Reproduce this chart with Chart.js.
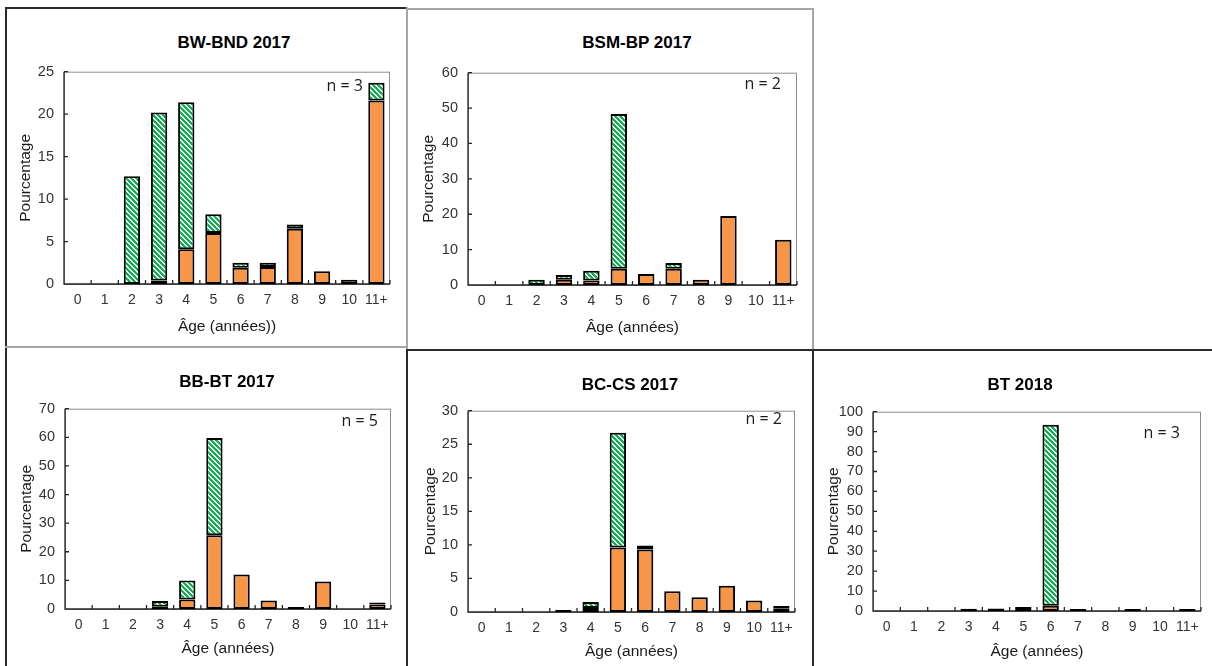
<!DOCTYPE html>
<html>
<head>
<meta charset="utf-8">
<script src="https://cdn.jsdelivr.net/npm/chart.js@4.4.1/dist/chart.umd.min.js"></script>
<style>
body { margin: 0; background: #fff; width: 1212px; height: 666px; overflow: hidden; position: relative; font-family: "Liberation Sans", Arial, sans-serif; }
canvas { position: absolute; }
.line { position: absolute; }
.title { position: absolute; width: 240px; text-align: center; font-weight: bold; font-size: 17px; line-height: 20px; color: #000; }
.count { position: absolute; font-family: "Open Sans", sans-serif; font-size: 16px; line-height: 20px; color: #1a1a1a; white-space: nowrap; }
</style>
</head>
<body>
<script>
// Age classes
const ages = ['0', '1', '2', '3', '4', '5', '6', '7', '8', '9', '10', '11+'];

// BW-BND 2017
const bwbndOrange = [0, 0, 0, 0.4, 4.1, 6.0, 1.9, 2.0, 6.5, 1.5, 0.5, 21.6];
const bwbndGreen  = [0, 0, 12.7, 19.8, 17.3, 2.2, 0.6, 0.5, 0.5, 0, 0, 2.1];

// BSM-BP 2017
const bsmbpOrange = [0, 0, 0, 1.5, 1.3, 4.6, 3.1, 4.6, 1.5, 19.5, 0, 12.8];
const bsmbpGreen  = [0, 0, 1.5, 1.3, 2.7, 43.7, 0, 1.6, 0, 0, 0, 0];

// BB-BT 2017
const bbbtOrange = [0, 0, 0, 0.8, 3.3, 25.8, 12.1, 3.0, 0.7, 9.6, 0, 1.6];
const bbbtGreen  = [0, 0, 0, 2.0, 6.7, 34.0, 0, 0, 0, 0, 0, 0.7];

// BC-CS 2017
const bccsOrange = [0, 0, 0, 0.3, 0.6, 9.6, 9.3, 3.1, 2.2, 3.9, 1.7, 0.5];
const bccsGreen  = [0, 0, 0, 0, 0.9, 17.1, 0.6, 0, 0, 0, 0, 0.4];

// BT 2018
const bt18Orange = [0, 0, 0, 0, 1.3, 1.5, 2.6, 1.0, 0, 1.0, 0, 1.0];
const bt18Green  = [0, 0, 0, 1.1, 0, 0.5, 90.8, 0, 0, 0, 0, 0];

const panels = [
    { title: 'BW-BND 2017', n: 'n = 3', orange: bwbndOrange, green: bwbndGreen, max: 25, step: 5, xTitle: 'Âge (années))' },
    { title: 'BSM-BP 2017', n: 'n = 2', orange: bsmbpOrange, green: bsmbpGreen, max: 60, step: 10, xTitle: 'Âge (années)' },
    { title: 'BB-BT 2017', n: 'n = 5', orange: bbbtOrange, green: bbbtGreen, max: 70, step: 10, xTitle: 'Âge (années)' },
    { title: 'BC-CS 2017', n: 'n = 2', orange: bccsOrange, green: bccsGreen, max: 30, step: 5, xTitle: 'Âge (années)' },
    { title: 'BT 2018', n: 'n = 3', orange: bt18Orange, green: bt18Green, max: 100, step: 10, xTitle: 'Âge (années)' }
];

// Page layout: canvas box, plot area, title positions
const layout = [
    { canvas: [8, 53, 398, 292], plot: [64, 63, 390, 284], yTitleX: 25, xTitleY: 327, titleC: [234, 43], nRight: 363, nY: 85 },
    { canvas: [410, 54, 398, 292], plot: [468, 65, 797, 285], yTitleX: 428, xTitleY: 328, titleC: [637, 43], nRight: 781, nY: 83 },
    { canvas: [8, 390, 398, 275], plot: [65, 401, 391, 609], yTitleX: 26, xTitleY: 649, titleC: [227, 382], nRight: 378, nY: 420 },
    { canvas: [410, 392, 398, 273], plot: [468, 403, 795, 612], yTitleX: 430, xTitleY: 652, titleC: [630, 385], nRight: 782, nY: 418 },
    { canvas: [815, 393, 395, 272], plot: [873, 404, 1201, 611], yTitleX: 833, xTitleY: 652, titleC: [1020, 385], nRight: 1180, nY: 432 }
];

// Panel frame lines [x, y, w, h, colour]
const frameLines = [
    [5, 7, 402, 2, '#2b2b2b'],
    [5, 7, 2, 659, '#2b2b2b'],
    [406, 7, 2, 342, '#a6a6a6'],
    [5, 346, 402, 2, '#a6a6a6'],
    [408, 8, 406, 2, '#a6a6a6'],
    [812, 8, 2, 342, '#a6a6a6'],
    [406, 349, 806, 2, '#2b2b2b'],
    [406, 349, 2, 317, '#2b2b2b'],
    [812, 350, 2, 316, '#2b2b2b']
];

frameLines.forEach(l => {
    const d = document.createElement('div');
    d.className = 'line';
    d.style.left = l[0] + 'px';
    d.style.top = l[1] + 'px';
    d.style.width = l[2] + 'px';
    d.style.height = l[3] + 'px';
    d.style.background = l[4];
    document.body.appendChild(d);
});

// Hatched green fill (white diagonal stripes)
function makeHatch(ctx) {
    const size = 5;
    const c = document.createElement('canvas');
    c.width = size;
    c.height = size;
    const g = c.getContext('2d');
    const img = g.createImageData(size, size);
    for (let y = 0; y < size; y++) {
        for (let x = 0; x < size; x++) {
            const k = (y * size + x) * 4;
            const d = (x - y + size * 2) % size;
            const white = d === 0 || d === 1;
            img.data[k] = white ? 250 : 16;
            img.data[k + 1] = white ? 255 : 176;
            img.data[k + 2] = white ? 250 : 84;
            img.data[k + 3] = 255;
        }
    }
    g.putImageData(img, 0, 0);
    return ctx.createPattern(c, 'repeat');
}

// Plot frame, axis lines and inward tick marks
const framePlugin = {
    id: 'frame',
    beforeDatasetsDraw(chart) {
        const { ctx, chartArea: a, scales } = chart;
        ctx.save();
        ctx.strokeStyle = '#8c8c8c';
        ctx.lineWidth = 1;
        ctx.strokeRect(a.left + 0.5, a.top + 0.5, a.right - a.left - 1, a.bottom - a.top);
        ctx.strokeStyle = '#262626';
        ctx.lineWidth = 1.3;
        ctx.beginPath();
        ctx.moveTo(a.left, a.top);
        ctx.lineTo(a.left, a.bottom);
        ctx.lineTo(a.right, a.bottom);
        scales.y.ticks.forEach((t, i) => {
            const y = scales.y.getPixelForTick(i);
            ctx.moveTo(a.left, y);
            ctx.lineTo(a.left + 4, y);
        });
        for (let i = 0; i <= scales.x.ticks.length; i++) {
            const px = scales.x.getPixelForValue(i - 0.5);
            ctx.moveTo(px, a.bottom);
            ctx.lineTo(px, a.bottom - 4);
        }
        ctx.stroke();
        ctx.restore();
    }
};

panels.forEach((p, idx) => {
    const L = layout[idx];
    const [cx, cy, cw, ch] = L.canvas;
    const [pl, pt, pr, pb] = L.plot;

    const canvas = document.createElement('canvas');
    canvas.width = cw;
    canvas.height = ch;
    canvas.style.left = cx + 'px';
    canvas.style.top = cy + 'px';
    document.body.appendChild(canvas);

    const t = document.createElement('div');
    t.className = 'title';
    t.textContent = p.title;
    t.style.left = (L.titleC[0] - 120) + 'px';
    t.style.top = (L.titleC[1] - 10) + 'px';
    document.body.appendChild(t);

    const n = document.createElement('div');
    n.className = 'count';
    n.textContent = p.n;
    n.style.right = (1212 - L.nRight) + 'px';
    n.style.top = (L.nY - 10) + 'px';
    document.body.appendChild(n);

    const ctx = canvas.getContext('2d');
    const hatch = makeHatch(ctx);
    const yWidth = pl - cx;
    const xHeight = cy + ch - pb;

    new Chart(ctx, {
        type: 'bar',
        data: {
            labels: ages,
            datasets: [
                {
                    label: 'orange',
                    data: p.orange.map(v => v === 0 ? null : v),
                    backgroundColor: '#F79646',
                    borderColor: '#000',
                    borderWidth: 2,
                    borderSkipped: false,
                    barPercentage: 0.6,
                    categoryPercentage: 1
                },
                {
                    label: 'vert',
                    data: p.green.map(v => v === 0 ? null : v),
                    backgroundColor: hatch,
                    borderColor: '#000',
                    borderWidth: 2,
                    borderSkipped: false,
                    barPercentage: 0.6,
                    categoryPercentage: 1
                }
            ]
        },
        options: {
            responsive: false,
            animation: false,
            layout: {
                padding: { top: pt - cy, right: cx + cw - pr, bottom: 0, left: 0 }
            },
            plugins: {
                legend: { display: false },
                tooltip: { enabled: false },
                title: { display: false }
            },
            scales: {
                x: {
                    stacked: true,
                    grid: { display: false, drawTicks: false },
                    border: { display: false },
                    ticks: {
                        color: '#333',
                        font: { family: 'Liberation Sans', size: 14 },
                        padding: 8,
                        maxRotation: 0,
                        autoSkip: false
                    },
                    title: {
                        display: true,
                        text: p.xTitle,
                        color: '#1a1a1a',
                        font: { family: 'Liberation Sans', size: 15.5 },
                        padding: { top: 0, bottom: cy + ch - L.xTitleY - 9 }
                    },
                    afterFit: (scale) => { scale.height = xHeight; }
                },
                y: {
                    stacked: true,
                    min: 0,
                    max: p.max,
                    grid: { display: false, drawTicks: false },
                    border: { display: false },
                    ticks: {
                        stepSize: p.step,
                        autoSkip: false,
                        color: '#333',
                        font: { family: 'Liberation Sans', size: 14.5 },
                        padding: 10
                    },
                    title: {
                        display: true,
                        text: 'Pourcentage',
                        color: '#1a1a1a',
                        font: { family: 'Liberation Sans', size: 15.5 },
                        padding: { top: L.yTitleX - cx - 9, bottom: 0 }
                    },
                    afterFit: (scale) => { scale.width = yWidth; }
                }
            }
        },
        plugins: [framePlugin]
    });
});
</script>
</body>
</html>
